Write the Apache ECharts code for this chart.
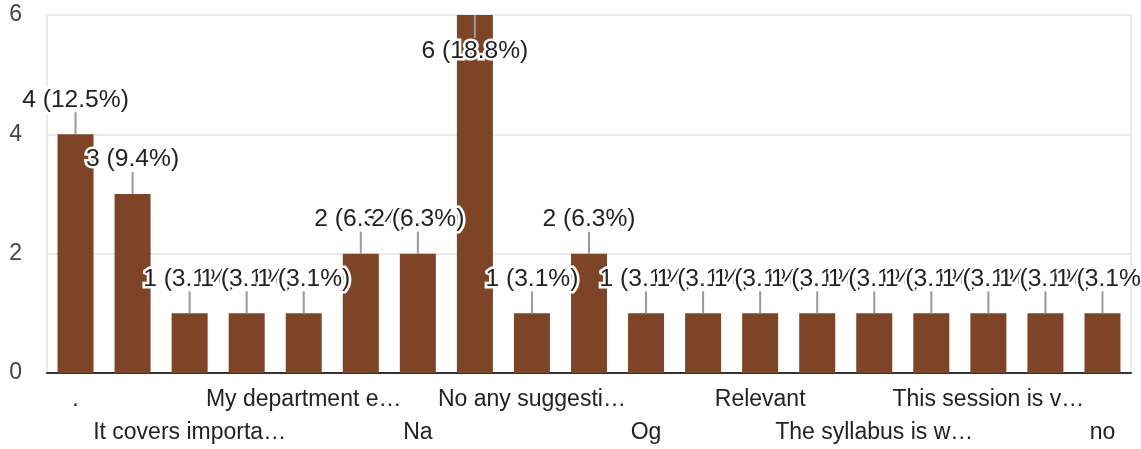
<!DOCTYPE html>
<html>
<head>
<meta charset="utf-8">
<script src="https://cdn.jsdelivr.net/npm/echarts@6/dist/echarts.min.js"></script>
<style>
html,body{margin:0;padding:0;background:#fff;}
#chart{width:1141px;height:449px;}
</style>
</head>
<body>
<div id="chart"></div>
<script>
var categories = [
  ".", "Good", "It covers importa\u2026", "Knowledgeable", "My department e\u2026",
  "NA", "Na", "Nil", "No any suggesti\u2026", "No suggestions",
  "Og", "Ok", "Relevant", "Satisfied", "The syllabus is w\u2026",
  "The topics are v\u2026", "This session is v\u2026", "Very good", "no"
];
var counts = [4, 3, 1, 1, 1, 2, 2, 6, 1, 2, 1, 1, 1, 1, 1, 1, 1, 1, 1];
var yTicks = { min: 0, max: 6, interval: 2 };

var total = counts.reduce(function (a, b) { return a + b; }, 0);
var FONT = '"Liberation Sans", Arial, sans-serif';
var GRID_TOP = 15;

var chart = echarts.init(document.getElementById('chart'), null, { renderer: 'canvas' });
chart.setOption({
  animation: false,
  grid: { left: 47, right: 10, top: GRID_TOP, bottom: 76, show: true, borderColor: '#ebebeb', borderWidth: 2 },
  xAxis: {
    type: 'category',
    data: categories,
    axisTick: { show: false },
    axisLine: { lineStyle: { color: '#333', width: 2 } },
    axisLabel: {
      interval: 1,
      margin: 10,
      fontSize: 23,
      lineHeight: 33,
      fontFamily: FONT,
      color: '#222',
      formatter: function (v, i) { return (i % 4 === 2) ? '\n' + v : v; }
    }
  },
  yAxis: {
    type: 'value',
    min: yTicks.min, max: yTicks.max, interval: yTicks.interval,
    axisLine: { show: false },
    axisTick: { show: false },
    splitLine: { lineStyle: { color: '#ebebeb', width: 2 } },
    axisLabel: { fontSize: 23, fontFamily: FONT, color: '#444', margin: 25 }
  },
  series: [
    {
      type: 'bar',
      data: counts,
      barWidth: 36,
      itemStyle: { color: '#7e4428' },
      silent: true
    },
    {
      type: 'custom',
      clip: false,
      z: 10,
      data: counts.map(function (v, i) { return [i, v]; }),
      encode: { x: 0, y: 1 },
      renderItem: function (params, api) {
        var i = api.value(0), v = api.value(1);
        var p = api.coord([i, v]);
        var pct = (v / total * 100).toFixed(1);
        var text = v + ' (' + pct + '%)';
        var flip = (p[1] - 48) < GRID_TOP;
        var y1 = flip ? p[1] + 23 : p[1] - 22;
        var ty = flip ? p[1] + 37 : p[1] - 34;
        return {
          type: 'group',
          children: [
            { type: 'line', shape: { x1: p[0], y1: p[1], x2: p[0], y2: y1 },
              style: { stroke: '#999', lineWidth: 2 } },
            { type: 'text', x: p[0], y: ty, scaleX: 1.07,
              style: { text: text, align: 'center', verticalAlign: 'middle',
                       font: '23px ' + FONT, fill: '#222', stroke: '#fff', lineWidth: 5 } }
          ]
        };
      }
    }
  ]
});
</script>
</body>
</html>
